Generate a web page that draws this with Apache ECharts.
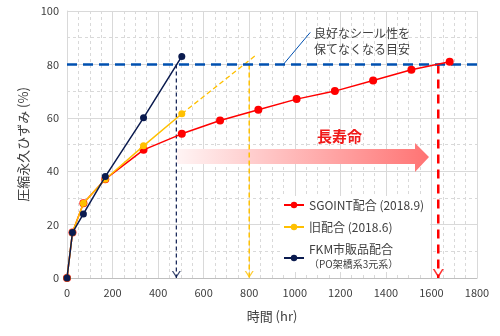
<!DOCTYPE html>
<html><head><meta charset="utf-8">
<script src="https://cdn.jsdelivr.net/npm/echarts@6/dist/echarts.min.js"></script>
<style>html,body{margin:0;padding:0;background:#fff}#c{width:500px;height:336px}</style>
</head><body><div id="c"></div>
<script>
const FONT = '"Noto Sans CJK JP", "Noto Sans", sans-serif';
const seriesNames = ['SGOINT配合 (2018.9)', '旧配合 (2018.6)', 'FKM市販品配合'];
const subNote = '（PO架橋系3元系）';
const hoursNew = [0, 24, 72, 168, 336, 504, 672, 840, 1008, 1176, 1344, 1512, 1680];
const valuesNew = [0, 17, 28, 37, 48, 54, 59, 63, 67, 70, 74, 78, 81];
const hoursOld = [0, 24, 72, 168, 336, 504];
const valuesOld = [0, 17, 28, 37, 49.5, 61.5];
const hoursFkm = [0, 24, 72, 168, 336, 504];
const valuesFkm = [0, 17, 24, 38, 60, 83];
const oldExtension = [[504, 61.5], [830, 83.5]];
const threshold = 80;
const lifeFkm = 480, lifeOld = 800, lifeNew = 1630;
const leader = [[950, 80], [1068, 92]];
const xTicks = [0, 200, 400, 600, 800, 1000, 1200, 1400, 1600, 1800];
const yTicks = [0, 20, 40, 60, 80, 100];
const colors = ['#ff0000', '#ffc000', '#0b1b4f'];
const lineBlue = '#0050b0';

const zip = (a, b) => a.map((v, i) => [v, b[i]]);
const chevron = 'path://M0,0 L5,8 L10,0 L8.4,0 L5,5.4 L1.6,0 Z';

const chart = echarts.init(document.getElementById('c'));
const vline = (x, color, width, dash) => ({
  type: 'line', data: [[x, threshold], [x, 0]], symbol: 'none', silent: true,
  lineStyle: { color, width, type: dash }, z: 3
});
const arrowHead = (x, color, w, h) => ({
  type: 'scatter', data: [[x, 0]], symbol: chevron, symbolSize: [w, h],
  symbolOffset: [0, -h / 2], itemStyle: { color }, silent: true, z: 4
});

chart.setOption({
  animation: false,
  textStyle: { fontFamily: FONT },
  grid: { left: 67, right: 23, top: 11, bottom: 58 },
  xAxis: {
    type: 'value', min: xTicks[0], max: xTicks[xTicks.length - 1], interval: xTicks[1] - xTicks[0],
    name: '時間 (hr)', nameLocation: 'middle', nameGap: 32,
    nameTextStyle: { fontSize: 13, color: '#404040', fontFamily: FONT },
    axisLine: { lineStyle: { color: '#bfbfbf' } }, axisTick: { show: false },
    axisLabel: { fontSize: 11, color: '#404040', margin: 9, fontFamily: FONT, formatter: v => String(v) },
    splitLine: { lineStyle: { color: '#d9d9d9' } },
    minorTick: { show: false, splitNumber: 4 },
    minorSplitLine: { show: true, lineStyle: { color: '#d9d9d9', type: [3, 3] } }
  },
  yAxis: {
    type: 'value', min: yTicks[0], max: yTicks[yTicks.length - 1], interval: yTicks[1] - yTicks[0],
    name: '圧縮永久ひずみ (%)', nameLocation: 'middle', nameGap: 37,
    nameTextStyle: { fontSize: 13, color: '#404040', fontFamily: FONT },
    axisLine: { show: true, lineStyle: { color: '#d9d9d9' } }, axisTick: { show: false },
    axisLabel: { fontSize: 11, color: '#404040', margin: 8, fontFamily: FONT, formatter: v => String(v) },
    splitLine: { lineStyle: { color: '#d9d9d9' } },
    minorTick: { show: false, splitNumber: 2 },
    minorSplitLine: { show: true, lineStyle: { color: '#d9d9d9', type: [3, 3] } }
  },
  legend: {
    data: seriesNames, orient: 'vertical', left: 280, top: 196,
    backgroundColor: '#ffffff', padding: [3, 6, 3, 3], itemGap: 10,
    itemWidth: 20, itemHeight: 8,
    textStyle: { fontSize: 12, color: '#404040', fontFamily: FONT,
      rich: { s: { fontSize: 10, color: '#404040', lineHeight: 18, fontFamily: FONT } } },
    formatter: n => n === seriesNames[2] ? n + '\n{s|' + subNote + '}' : n
  },
  graphic: [
    { type: 'polygon', silent: true, z: 1,
      shape: { points: [[177, 149], [415, 149], [415, 143], [429, 157], [415, 172], [415, 164], [177, 164]] },
      style: { fill: { type: 'linear', x: 0, y: 0, x2: 1, y2: 0,
        colorStops: [{ offset: 0, color: '#fff4f4' }, { offset: 1, color: '#ff7373' }] } } },
    { type: 'text', left: 317, top: 129, z: 5,
      style: { text: '長寿命', fill: '#f01a1a', font: 'bold 15px ' + FONT } },
    { type: 'text', left: 314, top: 25, z: 5,
      style: { text: '良好なシール性を\n保てなくなる目安', fill: '#404040', font: '12px ' + FONT, lineHeight: 16 } }
  ],
  series: [
    { name: seriesNames[0], type: 'line', data: zip(hoursNew, valuesNew), symbol: 'circle', symbolSize: 8,
      color: colors[0], lineStyle: { color: colors[0], width: 1.5 }, itemStyle: { color: colors[0] }, z: 5 },
    { name: seriesNames[1], type: 'line', data: zip(hoursOld, valuesOld), symbol: 'circle', symbolSize: 7,
      color: colors[1], lineStyle: { color: colors[1], width: 1.5 }, itemStyle: { color: colors[1] }, z: 6 },
    { name: seriesNames[2], type: 'line', data: zip(hoursFkm, valuesFkm), symbol: 'circle', symbolSize: 7,
      color: colors[2], lineStyle: { color: colors[2], width: 1.5 }, itemStyle: { color: colors[2] }, z: 7 },
    { type: 'line', data: oldExtension, symbol: 'none', silent: true,
      lineStyle: { color: colors[1], width: 1.3, type: [5, 3] }, z: 4 },
    { type: 'line', data: [[0, threshold], [1800, threshold]], symbol: 'none', silent: true,
      lineStyle: { color: lineBlue, width: 2.5, type: [10, 6] }, z: 4 },
    { type: 'line', data: leader, symbol: 'none', silent: true,
      lineStyle: { color: lineBlue, width: 1 }, z: 4 },
    vline(lifeFkm, colors[2], 1.2, [4, 3]),
    vline(lifeOld, colors[1], 1.5, [5, 3]),
    vline(lifeNew, colors[0], 2.5, [9, 6]),
    arrowHead(lifeFkm, colors[2], 9, 7),
    arrowHead(lifeOld, colors[1], 9, 7),
    arrowHead(lifeNew, colors[0], 11, 9)
  ]
});
</script></body></html>
